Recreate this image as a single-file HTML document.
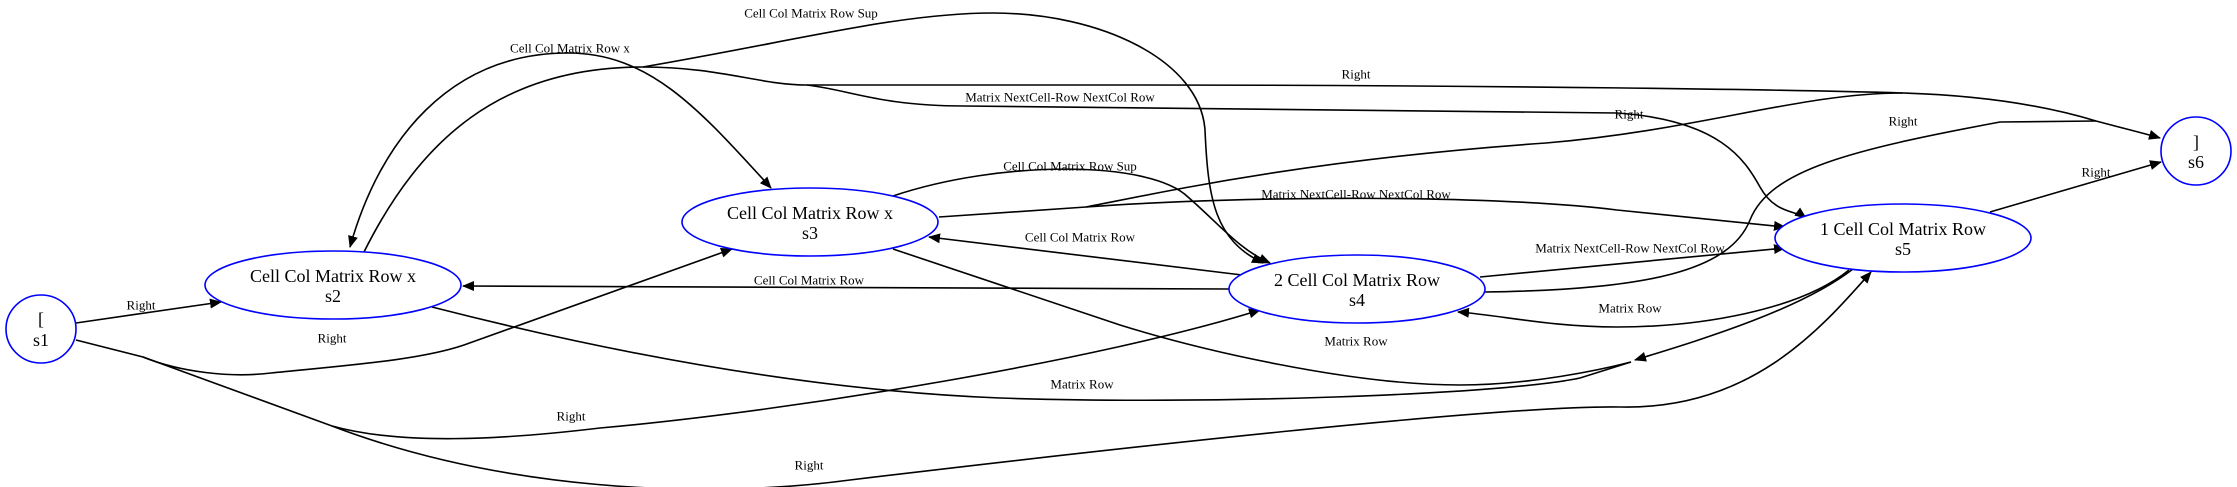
<!DOCTYPE html>
<html><head><meta charset="utf-8"><style>html,body{margin:0;padding:0;background:#fff}svg{display:block}</style></head>
<body>
<svg width="2237" height="487" viewBox="0 0 2237 487" xmlns="http://www.w3.org/2000/svg">
<defs>
<marker id="a" markerWidth="12" markerHeight="10" refX="11" refY="5" orient="auto-start-reverse" markerUnits="userSpaceOnUse">
<path d="M0,0 L12,5 L0,10 Z" fill="#000"/></marker>
</defs>
<g fill="none" stroke="#000" stroke-width="1.6">
<path d="M76,323 L221,302" marker-end="url(#a)"/>
<path d="M76,340 L143,357 C180,372 230,378 271,373 C350,365 420,360 464,345 L732,249" marker-end="url(#a)"/>
<path d="M143,357 L332,426 C400,445 500,440 600,428 C800,410 1100,360 1260,310" marker-end="url(#a)"/>
<path d="M332,426 C500,490 700,500 850,480 C1100,450 1500,405 1620,407 C1750,410 1820,330 1871,272" marker-end="url(#a)"/>
<path d="M350,247 C380,140 450,53 568,53 C650,53 700,110 771,188" marker-start="url(#a)" marker-end="url(#a)"/>
<path d="M364,252 C420,140 500,67 643,67 C720,67 760,85 807,85 L1120,85 C1500,85 1800,90 1903,93 C2000,96 2060,110 2096,121 C2130,130 2150,135 2160,138" marker-end="url(#a)"/>
<path d="M807,85 C850,90 880,106 964,106 L1617,113 C1720,120 1745,160 1760,187 S1795,210 1806,218" marker-end="url(#a)"/>
<path d="M643,67 C800,40 900,13 993,13 C1100,13 1200,60 1205,130 C1208,200 1215,240 1263,263" marker-end="url(#a)"/>
<path d="M893,196 C1000,160 1150,160 1188,197 C1220,225 1240,250 1270,263" marker-end="url(#a)"/>
<path d="M939,217 L1086,207 C1250,195 1500,195 1617,210 L1785,227" marker-end="url(#a)"/>
<path d="M1086,207 C1150,195 1300,160 1546,143 C1700,130 1800,93 1903,93"/>
<path d="M1242,275 L929,237" marker-end="url(#a)"/>
<path d="M1229,289 L463,286" marker-end="url(#a)"/>
<path d="M893,249 L1120,325 C1200,350 1350,385 1460,385 C1530,385 1600,370 1631,362"/>
<path d="M432,307 C600,350 800,390 1000,398 C1200,405 1500,395 1580,378 L1631,362"/>
<path d="M1853,269 C1800,310 1700,340 1635,360" marker-end="url(#a)"/>
<path d="M1849,270 C1800,310 1700,327 1617,327 C1550,327 1500,315 1458,312" marker-end="url(#a)"/>
<path d="M1480,277 L1785,248" marker-end="url(#a)"/>
<path d="M1485,292 C1650,290 1730,270 1750,220 C1770,170 1850,150 2000,122 L2096,121"/>
<path d="M1990,212 L2161,162" marker-end="url(#a)"/>
</g>
<g fill="#fff" stroke="#00f" stroke-width="1.6">
<ellipse cx="41" cy="329" rx="35" ry="34"/>
<ellipse cx="333" cy="285" rx="128" ry="34"/>
<ellipse cx="810" cy="222" rx="128" ry="34"/>
<ellipse cx="1357" cy="289" rx="128" ry="34"/>
<ellipse cx="1903" cy="238" rx="128" ry="34"/>
<ellipse cx="2196" cy="151" rx="35" ry="34"/>
</g>
<g font-family="Liberation Serif, serif" font-size="18" text-anchor="middle" fill="#000">
<text x="41" y="325">[</text><text x="41" y="346">s1</text>
<text x="333" y="282">Cell Col Matrix Row x</text><text x="333" y="302">s2</text>
<text x="810" y="219">Cell Col Matrix Row x</text><text x="810" y="239">s3</text>
<text x="1357" y="286">2 Cell Col Matrix Row</text><text x="1357" y="306">s4</text>
<text x="1903" y="235">1 Cell Col Matrix Row</text><text x="1903" y="255">s5</text>
<text x="2196" y="148">]</text><text x="2196" y="168">s6</text>
</g>
<g font-family="Liberation Serif, serif" font-size="13" text-anchor="middle" fill="#000" dominant-baseline="central">
<text x="141" y="305">Right</text>
<text x="332" y="338">Right</text>
<text x="571" y="416">Right</text>
<text x="809" y="465">Right</text>
<text x="570" y="48">Cell Col Matrix Row x</text>
<text x="811" y="13">Cell Col Matrix Row Sup</text>
<text x="1356" y="74">Right</text>
<text x="1060" y="97">Matrix NextCell-Row NextCol Row</text>
<text x="1629" y="114">Right</text>
<text x="1903" y="121">Right</text>
<text x="1070" y="166">Cell Col Matrix Row Sup</text>
<text x="1356" y="194">Matrix NextCell-Row NextCol Row</text>
<text x="1080" y="237">Cell Col Matrix Row</text>
<text x="809" y="280">Cell Col Matrix Row</text>
<text x="1082" y="384">Matrix Row</text>
<text x="1356" y="341">Matrix Row</text>
<text x="1630" y="308">Matrix Row</text>
<text x="1630" y="248">Matrix NextCell-Row NextCol Row</text>
<text x="2096" y="172">Right</text>
</g>
</svg>
</body></html>
